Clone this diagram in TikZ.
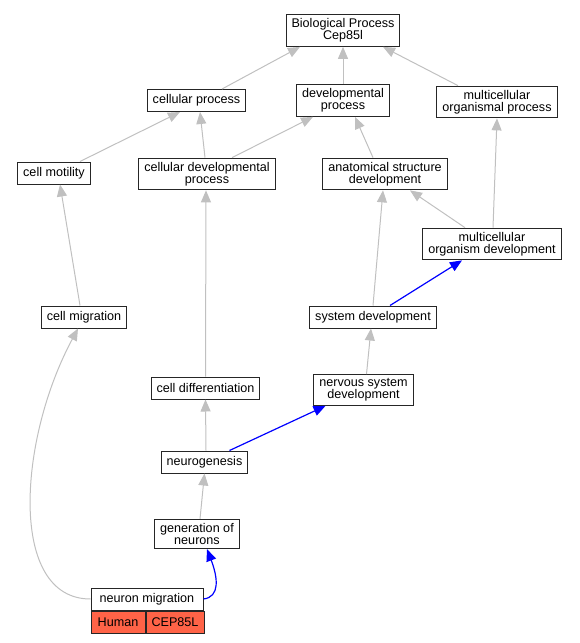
\documentclass[tikz,border=0pt]{standalone}
\usepackage{fontspec}
\setmainfont{Liberation Sans}
\usepackage{tikz}
\usetikzlibrary{calc, arrows.meta, positioning}

\definecolor{edgegray}{RGB}{192,192,192}
\definecolor{tomato}{RGB}{255,99,71}

\begin{document}
\begin{tikzpicture}[x=1pt, y=-1pt,
    term/.style={draw=black!85, line width=1pt, fill=white, align=center, inner xsep=5.5pt, inner ysep=4pt, minimum height=22pt, font=\fontsize{12.6}{12}\selectfont},
    cell/.style={draw=black!85, line width=1pt, fill=tomato, inner sep=0pt, minimum height=22pt, font=\fontsize{12.6}{12}\selectfont},
    isa/.style={draw=edgegray, line width=1pt, -{Triangle[length=12pt, width=10pt]}},
    part/.style={draw=blue, line width=1.2pt, -{Triangle[length=12pt, width=10pt]}}]
         \useasboundingbox (0,0) rectangle (579,643);
         \coordinate (BP) at (343, 30.5);
         \coordinate (CP) at (196.5, 100.5);
         \coordinate (DP) at (343, 100.5);
         \coordinate (MOP) at (497, 102);
         \coordinate (CM) at (54, 173);
         \coordinate (CDP) at (207, 174);
         \coordinate (ASD) at (385, 174);
         \coordinate (MOD) at (492, 244);
         \coordinate (CMIG) at (84, 317);
         \coordinate (SD) at (373, 317);
         \coordinate (CD) at (205.5, 388);
         \coordinate (NSD) at (363.5, 390);
         \coordinate (NG) at (204.5, 462);
         \coordinate (GON) at (197, 534);
         \coordinate (NM) at (147, 599);
         \node[term] (bp) at (BP) {Biological Process\\Cep85l};
         \node[term] (cp) at (CP) {cellular process};
         \node[term] (dp) at (DP) {developmental\\process};
         \node[term] (mop) at (MOP) {multicellular\\organismal process};
         \node[term] (cm) at (CM) {cell motility};
         \node[term] (cdp) at (CDP) {cellular developmental\\process};
         \node[term] (asd) at (ASD) {anatomical structure\\development};
         \node[term] (mod) at (MOD) {multicellular\\organism development};
         \node[term] (cmig) at (CMIG) {cell migration};
         \node[term] (sd) at (SD) {system development};
         \node[term] (cd) at (CD) {cell differentiation};
         \node[term] (nsd) at (NSD) {nervous system\\development};
         \node[term] (ng) at (NG) {neurogenesis};
         \node[term] (gon) at (GON) {generation of\\neurons};
         \node[term, minimum width=112pt] (nm) at (NM) {neuron migration};
         \node[cell, minimum width=54pt, anchor=north west] (hum) at (nm.south west) {Human};
         \node[cell, minimum width=58pt, anchor=north west] (cep) at (hum.north east) {CEP85L};
         % is_a edges in gray, part_of edges in blue
         \draw[isa] ([xshift=25.5]cp.north) -- ([xshift=-43]bp.south);
         \draw[isa] (dp.north) -- (bp.south);
         \draw[isa] ([xshift=-39]mop.north) -- ([xshift=40]bp.south);
         \draw[isa] ([xshift=26]cm.north) -- ([xshift=-16.5]cp.south);
         \draw[isa] ([xshift=-2]cdp.north) -- ([xshift=3.5]cp.south);
         \draw[isa] ([xshift=25]cdp.north) -- ([xshift=-30]dp.south);
         \draw[isa] ([xshift=-12]asd.north) -- ([xshift=12]dp.south);
         \draw[isa] ([xshift=-27]mod.north) -- ([xshift=25]asd.south);
         \draw[isa] ([xshift=1]mod.north) -- (mop.south);
         \draw[isa] ([xshift=-4]cmig.north) -- ([xshift=6]cm.south);
         \draw[isa] (sd.north) -- ([xshift=-2]asd.south);
         \draw[part] ([xshift=17]sd.north) -- ([xshift=-30]mod.south);
         \draw[isa] (cd.north) -- ([xshift=-1]cdp.south);
         \draw[isa] ([xshift=3]nsd.north) -- ([xshift=-2]sd.south);
         \draw[isa] ([xshift=1.5]ng.north) -- (cd.south);
         \draw[part] ([xshift=25]ng.north) -- ([xshift=-38]nsd.south);
         \draw[isa] ([xshift=3]gon.north) -- ([xshift=0]ng.south);
         \draw[isa] (nm.west) .. controls (8,599) and (18,440) .. ([xshift=-6]cmig.south);
         \draw[part] (nm.east) .. controls (220,597) and (218,578) .. ([xshift=10]gon.south);
\end{tikzpicture}
\end{document}
